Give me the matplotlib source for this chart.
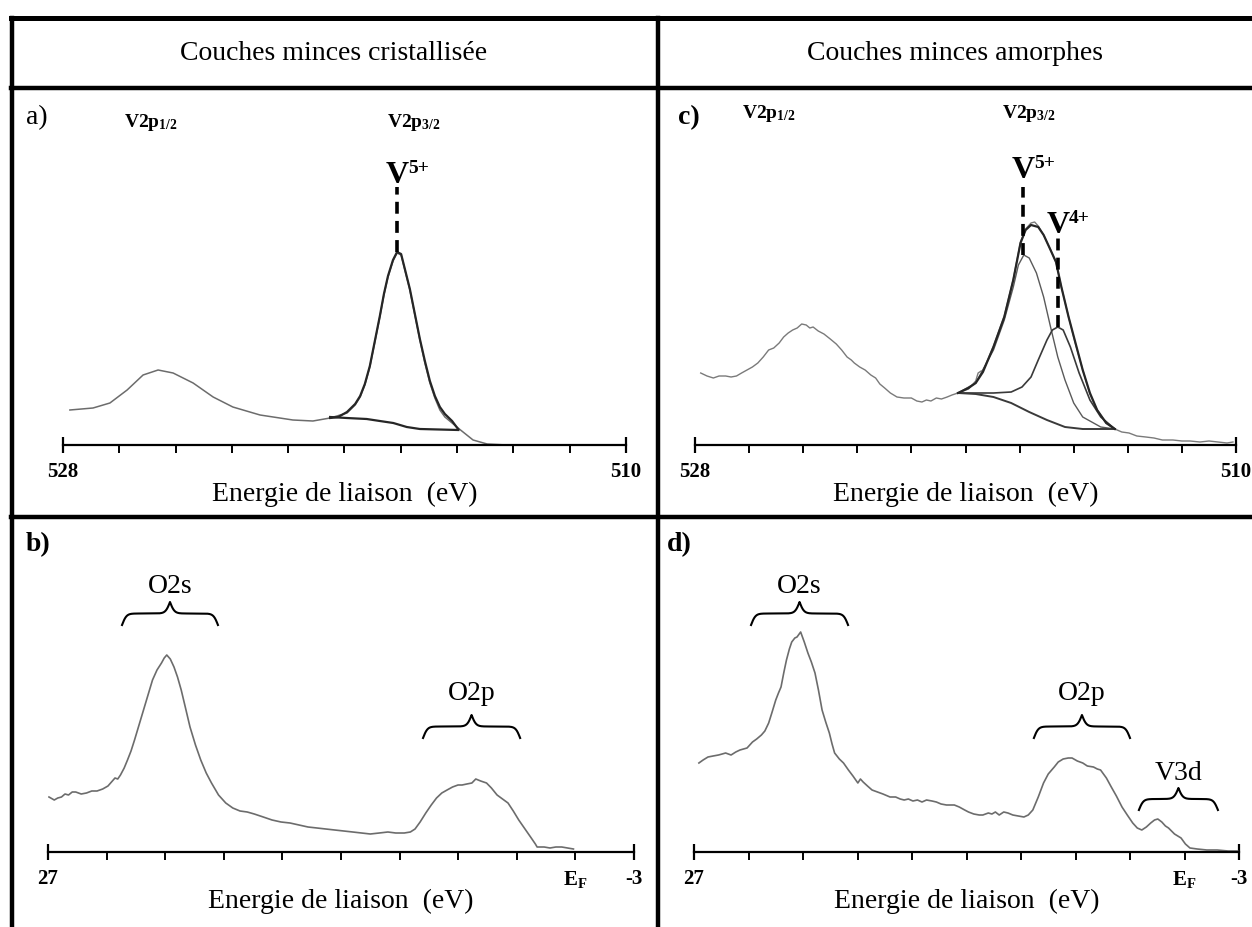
import numpy as np
import matplotlib.pyplot as plt
from matplotlib.lines import Line2D

plt.rcParams['font.family'] = 'Liberation Serif'
plt.rcParams['mathtext.fontset'] = 'custom'
plt.rcParams['mathtext.rm'] = 'Liberation Serif'
plt.rcParams['mathtext.bf'] = 'Liberation Serif:bold'
plt.rcParams['mathtext.it'] = 'Liberation Serif:italic'

# --- a) V2p, couche cristallisée ---
a_E = [527.78, 527.04, 526.50, 525.95, 525.44, 524.96, 524.48, 523.84, 523.20, 522.57,
       521.70, 520.65, 520.01, 519.46, 518.92, 518.66, 518.50, 518.35, 518.19, 518.03,
       517.87, 517.74, 517.61, 517.45, 517.32, 517.19, 517.07, 516.91, 516.75, 516.59,
       516.43, 516.27, 516.11, 515.95, 515.79, 515.56, 515.37, 514.89, 514.44, 513.81]
a_I = [35, 37, 42, 55, 70, 75, 72, 62, 48, 38,
       30, 25, 24, 27, 32, 40, 48, 60, 78, 103,
       128, 150, 168, 184, 192, 190, 175, 155, 130, 105,
       82, 62, 47, 35, 28, 22, 17, 5, 1, 0]
a_fit_E = [519.46, 519.20, 518.92, 518.66, 518.50, 518.35, 518.19, 518.03, 517.87, 517.74,
           517.61, 517.45, 517.32, 517.19, 517.07, 516.91, 516.75, 516.59, 516.43, 516.27,
           516.11, 515.95, 515.79, 515.56, 515.37]
a_fit_I = [27, 28, 33, 41, 49, 61, 79, 104, 129, 151,
           169, 185, 193, 191, 176, 156, 131, 106, 84, 64,
           49, 38, 31, 24, 16]
a_bg_E = [519.46, 518.93, 518.29, 517.87, 517.44, 517.01, 516.59, 515.36]
a_bg_I = [28, 27, 26, 24, 22, 18, 16, 15]
a_v5 = 517.32

# --- c) V2p, couche amorphe ---
c_E = [527.81, 527.60, 527.39, 527.20, 526.98, 526.80, 526.62, 526.45, 526.27, 526.09,
       525.91, 525.73, 525.55, 525.38, 525.20, 525.05, 524.90, 524.75, 524.60, 524.45,
       524.30, 524.18, 524.07, 523.90, 523.71, 523.50, 523.30, 523.12, 522.94, 522.80,
       522.70, 522.52, 522.34, 522.15, 521.99, 521.85, 521.69, 521.50, 521.28, 521.05,
       520.80, 520.62, 520.45, 520.30, 520.15, 519.97, 519.80, 519.61, 519.45, 519.25,
       518.90, 518.66, 518.58, 518.48, 518.42, 518.07, 517.71, 517.41, 517.17, 517.00,
       516.82, 516.70, 516.58, 516.40, 516.17, 515.99, 515.81, 515.57, 515.34, 515.10,
       514.86, 514.62, 514.32, 514.03, 513.80, 513.56, 513.30, 513.00, 512.73, 512.45,
       512.10, 511.80, 511.53, 511.20, 510.90, 510.60, 510.30, 510.10]
c_I = [72, 69, 67, 69, 69, 68, 69, 72, 75, 78,
       82, 88, 95, 97, 102, 108, 112, 115, 117, 121,
       120, 117, 118, 114, 111, 106, 101, 95, 88, 85,
       82, 78, 75, 70, 67, 61, 57, 52, 48, 47,
       47, 44, 43, 45, 44, 47, 46, 48, 50, 52,
       56, 64, 72, 74, 74, 99, 129, 166, 203, 216,
       222, 223, 219, 210, 195, 183, 158, 128, 101, 75,
       51, 35, 22, 16, 13, 12, 9, 8, 7, 5,
       5, 4, 4, 3, 4, 3, 2, 3]
c_fit_E = [519.25, 518.90, 518.66, 518.42, 518.07, 517.71, 517.41, 517.17, 517.00, 516.82,
           516.58, 516.40, 516.17, 515.99, 515.81, 515.57, 515.34, 515.10, 514.86, 514.62,
           514.32, 514.03]
c_fit_I = [52, 57, 62, 73, 98, 128, 165, 202, 215, 220,
           218, 210, 195, 183, 158, 128, 102, 75, 52, 35,
           22, 16]
c_v5_E = [519.25, 518.66, 518.07, 517.71, 517.41, 517.24, 517.06, 516.88, 516.64, 516.40,
          516.17, 515.93, 515.69, 515.40, 515.10, 514.50, 514.03]
c_v5_I = [52, 62, 95, 125, 158, 180, 190, 187, 172, 148,
          118, 88, 65, 42, 28, 18, 16]
c_v4_E = [519.25, 518.07, 517.48, 517.12, 516.82, 516.58, 516.29, 516.11, 515.93, 515.75,
          515.51, 515.22, 514.86, 514.50, 514.03]
c_v4_I = [52, 52, 53, 58, 68, 85, 105, 115, 118, 115,
          98, 72, 45, 28, 16]
c_bg_E = [519.25, 518.66, 518.07, 517.48, 516.88, 516.29, 515.69, 515.10, 514.03]
c_bg_I = [52, 51, 48, 42, 33, 25, 18, 16, 16]
c_v5 = 517.08
c_v4 = 515.93

# --- b) bande de valence, couche cristallisée ---
b_E = [26.95, 26.68, 26.50, 26.31, 26.13, 25.95, 25.76, 25.58, 25.30, 25.03,
       24.76, 24.49, 24.20, 23.93, 23.75, 23.57, 23.43, 23.29, 23.10, 22.93,
       22.75, 22.57, 22.34, 22.11, 21.88, 21.65, 21.42, 21.19, 21.05, 20.92,
       20.74, 20.55, 20.37, 20.18, 19.96, 19.73, 19.45, 19.18, 18.90, 18.63,
       18.27, 17.90, 17.54, 17.17, 16.80, 16.44, 15.98, 15.53, 15.07, 14.61,
       14.15, 13.69, 13.23, 12.78, 12.32, 11.86, 11.40, 10.95, 10.50, 10.04,
       9.60, 9.20, 8.76, 8.45, 8.21, 7.95, 7.66, 7.38, 7.11, 6.84,
       6.57, 6.29, 6.01, 5.80, 5.56, 5.30, 5.10, 4.85, 4.55, 4.30,
       4.01, 3.73, 3.45, 3.18, 2.90, 2.58, 2.26, 2.05, 1.96, 1.60,
       1.30, 1.00, 0.70, 0.40, 0.10]
b_I = [55, 52, 54, 55, 58, 57, 60, 60, 58, 59,
       61, 61, 63, 66, 70, 74, 73, 77, 84, 92,
       101, 112, 127, 142, 157, 172, 182, 189, 194, 197,
       193, 185, 175, 162, 144, 125, 107, 92, 79, 69,
       57, 49, 44, 41, 40, 38, 35, 32, 30, 29,
       27, 25, 24, 23, 22, 21, 20, 19, 18, 19,
       20, 19, 19, 20, 23, 30, 39, 47, 54, 59,
       62, 65, 67, 67, 68, 69, 73, 71, 69, 64,
       57, 53, 49, 41, 32, 23, 14, 8, 5, 5,
       4, 5, 5, 4, 3]

# --- d) bande de valence, couche amorphe ---
d_E = [26.73, 26.50, 26.23, 25.95, 25.65, 25.45, 25.26, 24.96, 24.70, 24.47,
       24.08, 23.78, 23.55, 23.29, 23.10, 22.89, 22.70, 22.50, 22.35, 22.21,
       22.05, 21.91, 21.75, 21.62, 21.45, 21.33, 21.13, 20.93, 20.73, 20.54,
       20.34, 20.15, 19.95, 19.75, 19.55, 19.40, 19.26, 19.00, 18.77, 18.50,
       18.25, 17.98, 17.84, 17.69, 17.45, 17.20, 16.90, 16.60, 16.21, 15.90,
       15.65, 15.43, 15.20, 14.95, 14.70, 14.45, 14.20, 13.90, 13.66, 13.40,
       13.10, 12.67, 12.40, 12.10, 11.89, 11.60, 11.30, 11.10, 10.80, 10.60,
       10.41, 10.20, 9.95, 9.72, 9.45, 9.15, 8.84, 8.60, 8.35, 8.05,
       7.76, 7.50, 7.17, 6.95, 6.68, 6.40, 6.19, 5.90, 5.60, 5.35,
       5.01, 4.80, 4.62, 4.30, 4.03, 3.75, 3.44, 3.15, 2.85, 2.60,
       2.35, 2.10, 1.86, 1.65, 1.47, 1.25, 1.05, 0.88, 0.55, 0.19,
       -0.05, -0.30, -0.70, -1.23, -1.80, -2.40, -2.92]
d_I = [89, 92, 95, 96, 97, 98, 99, 97, 100, 102,
       104, 110, 113, 117, 121, 129, 140, 152, 159, 165,
       180, 192, 203, 210, 214, 215, 220, 210, 199, 190,
       179, 162, 142, 130, 119, 108, 99, 93, 89, 82,
       76, 69, 73, 70, 66, 62, 60, 58, 55, 55,
       53, 52, 53, 51, 52, 50, 52, 51, 50, 48,
       47, 47, 45, 42, 40, 38, 37, 37, 39, 38,
       40, 37, 40, 39, 37, 36, 35, 37, 42, 55,
       69, 78, 85, 90, 93, 94, 94, 91, 89, 86,
       85, 83, 82, 74, 65, 56, 45, 37, 29, 24,
       22, 25, 29, 32, 33, 30, 26, 24, 18, 14,
       8, 4, 3, 2, 2, 1, 1]

W, H = 1252, 927
fig = plt.figure(figsize=(W / 100, H / 100), dpi=100)

TXT = 20      # texte courant (en-têtes, axes, bandes)
NUM = 15      # graduations


def box(l, r, b, t):
    return [l / W, 1 - b / H, (r - l) / W, (b - t) / H]


def fig_line(x0, y0, x1, y1, lw=3.2):
    fig.add_artist(Line2D([x0 / W, x1 / W], [1 - y0 / H, 1 - y1 / H],
                          color='black', lw=lw, solid_capstyle='projecting'))


def fig_text(x, y, s, **kw):
    fig.text(x / W, 1 - y / H, s, **kw)


def set_axis(ax, lo, hi, labels):
    for side in ('top', 'left', 'right'):
        ax.spines[side].set_visible(False)
    ax.spines['bottom'].set_linewidth(1.6)
    ax.patch.set_alpha(0)
    ax.set_yticks([])
    ax.set_xticks([lo, hi])
    ax.set_xticklabels([])
    ax.set_xticks(np.linspace(lo, hi, 11)[1:-1], minor=True)
    ax.tick_params(axis='x', which='major', direction='inout', length=12, width=1.6)
    ax.tick_params(axis='x', which='minor', direction='out', length=6, width=1.4)
    for x, s in labels:
        ax.annotate(s, xy=(x, 0), xytext=(0, -27), textcoords='offset pixels',
                    ha='center', va='center', fontsize=NUM, fontweight='bold',
                    annotation_clip=False)
    ax.annotate('Energie de liaison  (eV)', xy=(0.5, 0), xycoords='axes fraction',
                xytext=(0, -49), textcoords='offset pixels', ha='center', va='center',
                fontsize=TXT, annotation_clip=False)


def brace(ax, x0, x1, y, h, label, gap):
    # accolade horizontale, pointe vers le haut
    p0 = ax.transData.transform((x0, y))
    p1 = ax.transData.transform((x1, y))
    half = (p1[0] - p0[0]) / 2
    t = np.linspace(0, half, 150)
    beta = 0.45
    s = 1 / (1 + np.exp(-beta * (t - t[0]))) + 1 / (1 + np.exp(-beta * (t - t[-1])))
    xs = np.concatenate([p0[0] + t, p1[0] - t[::-1]])
    ys = p0[1] + (np.concatenate([s, s[::-1]]) - 0.5) * h
    pts = ax.transData.inverted().transform(np.column_stack([xs, ys]))
    ax.plot(pts[:, 0], pts[:, 1], color='black', lw=1.5, clip_on=False)
    xm = (x0 + x1) / 2
    ax.annotate(label, xy=(xm, y), xytext=(0, h + gap), textcoords='offset pixels',
                ha='center', va='baseline', fontsize=TXT, annotation_clip=False)


def ion_label(ax, x, y, charge):
    ax.annotate('V', xy=(x, y), ha='center', va='baseline', fontsize=23,
                fontweight='bold', annotation_clip=False)
    ax.annotate(charge, xy=(x, y), xytext=(11, 10), textcoords='offset pixels',
                ha='left', va='baseline', fontsize=14, fontweight='bold',
                annotation_clip=False)


gray = '#6c6c6c'
dark = '#262626'
dash_kw = dict(color='black', lw=2.6, dashes=(3.3, 2.0))

# panneau a
ax_a = fig.add_axes(box(63, 626, 445, 95))
ax_a.set_xlim(528, 510)
ax_a.set_ylim(0, 350)
set_axis(ax_a, 528, 510, [(528, '528'), (510, '510')])
ax_a.plot(a_E, a_I, color=gray, lw=1.1)
ax_a.plot(a_fit_E, a_fit_I, color=dark, lw=1.6)
ax_a.plot(a_bg_E, a_bg_I, color=dark, lw=1.6)
ax_a.plot([a_v5, a_v5], [max(a_fit_I), 258], **dash_kw)
ion_label(ax_a, a_v5, 262, '5+')

# panneau c
ax_c = fig.add_axes(box(695, 1236, 445, 95))
ax_c.set_xlim(528, 510)
ax_c.set_ylim(0, 350)
set_axis(ax_c, 528, 510, [(528, '528'), (510, '510')])
ax_c.plot(c_E, c_I, color='#7a7a7a', lw=1.0)
ax_c.plot(c_v5_E, c_v5_I, color='#5a5a5a', lw=1.0)
ax_c.plot(c_v4_E, c_v4_I, color='#3a3a3a', lw=1.2)
ax_c.plot(c_bg_E, c_bg_I, color='#3a3a3a', lw=1.4)
ax_c.plot(c_fit_E, c_fit_I, color=dark, lw=1.6)
ax_c.plot([c_v5, c_v5], [max(c_v5_I), 258], **dash_kw)
ax_c.plot([c_v4, c_v4], [max(c_v4_I), 211], **dash_kw)
ion_label(ax_c, c_v5, 267, '5+')
ion_label(ax_c, c_v4, 212, '4+')

# panneau b
ax_b = fig.add_axes(box(48, 634, 852, 525))
ax_b.set_xlim(27, -3)
ax_b.set_ylim(0, 327)
set_axis(ax_b, 27, -3, [(27, '27'), (0, r'$\mathbf{E_F}$'), (-3, '-3')])
ax_b.plot(b_E, b_I, color=gray, lw=1.2)
brace(ax_b, 23.21, 18.30, 227, 23, 'O2s', 9)
brace(ax_b, 7.80, 2.83, 114, 23, 'O2p', 15)

# panneau d
ax_d = fig.add_axes(box(694, 1239, 852, 525))
ax_d.set_xlim(27, -3)
ax_d.set_ylim(0, 327)
set_axis(ax_d, 27, -3, [(27, '27'), (0, r'$\mathbf{E_F}$'), (-3, '-3')])
ax_d.plot(d_E, d_I, color=gray, lw=1.2)
brace(ax_d, 23.86, 18.52, 227, 23, 'O2s', 9)
brace(ax_d, 8.29, 3.00, 114, 23, 'O2p', 15)
brace(ax_d, 2.51, -1.84, 42, 22, 'V3d', 8)

# cadre du tableau
fig_line(11, 18, 1252, 18, lw=3.6)
fig_line(11, 88, 1252, 88)
fig_line(11, 517, 1252, 517)
fig_line(12, 18, 12, 927)
fig_line(658, 18, 658, 927)

fig_text(334, 53, 'Couches minces cristallisée', ha='center', va='center', fontsize=TXT)
fig_text(955, 53, 'Couches minces amorphes', ha='center', va='center', fontsize=TXT)

fig_text(26, 118, 'a)', ha='left', va='center', fontsize=TXT)
fig_text(678, 118, 'c)', ha='left', va='center', fontsize=TXT, fontweight='bold')
fig_text(26, 545, 'b)', ha='left', va='center', fontsize=TXT, fontweight='bold')
fig_text(667, 545, 'd)', ha='left', va='center', fontsize=TXT, fontweight='bold')

fig_text(124, 122, r'$\mathbf{V2p_{1/2}}$', ha='left', va='center', fontsize=14)
fig_text(387, 122, r'$\mathbf{V2p_{3/2}}$', ha='left', va='center', fontsize=14)
fig_text(742, 114, r'$\mathbf{V2p_{1/2}}$', ha='left', va='center', fontsize=14)
fig_text(1002, 114, r'$\mathbf{V2p_{3/2}}$', ha='left', va='center', fontsize=14)

fig.savefig('out.png', dpi=100)
